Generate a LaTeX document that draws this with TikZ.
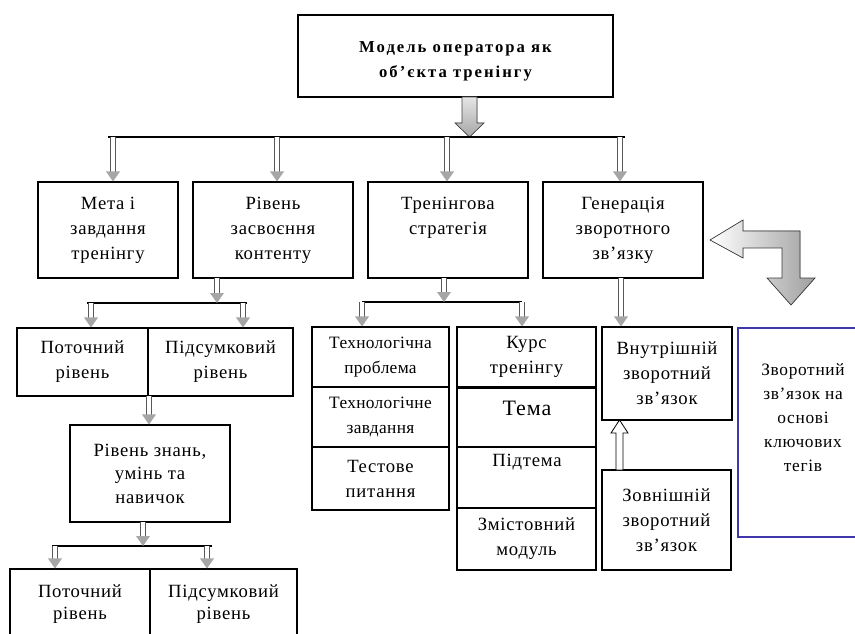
\documentclass[tikz,border=0pt]{standalone}
\usepackage{fontspec}
\setmainfont{Liberation Serif}
\usetikzlibrary{calc}
\newcommand\diagfont{\fontsize{14}{18.75}\selectfont\addfontfeature{LetterSpace=4}}
\newcommand\techfont{\fontsize{13}{18.75}\selectfont\addfontfeature{LetterSpace=2}}
\newcommand\headfont{\fontsize{12.5}{18.75}\selectfont\bfseries\addfontfeature{LetterSpace=12}}
% rectangle node given by its corners (x1,y1) (x2,y2) in pixel units
\newcommand\rbox[7][]{%
  \pgfmathsetmacro\bw{(#5-#3)*0.75}%
  \pgfmathsetmacro\bh{(#6-#4)*0.75}%
  \node[box,#1,minimum width=\bw pt,minimum height=\bh pt] (#2) at ({(#3+#5)/2},{(#4+#6)/2}) {#7};}
% grey double-line arrow ending at #2
\newcommand\dar[2]{%
  \draw[dshaft] (#1) -- ($(#2)+(0,-9)$);
  \fill[dhead] ($(#2)+(-7,-10)$) -- ($(#2)+(7,-10)$) -- (#2) -- cycle;}
\definecolor{boxblue}{RGB}{64,56,170}
\begin{document}
\begin{tikzpicture}[x=0.75pt,y=-0.75pt,
  box/.style={draw=black,line width=0.8pt,fill=white,inner sep=0pt,align=center,font=\diagfont},
  txt/.style={align=center,inner sep=0pt,font=\diagfont},
  bus/.style={line width=1.1pt,black},
  dshaft/.style={draw=gray!70!black,line width=0.55pt,double=white,double distance=3.4pt},
  dhead/.style={fill=gray!70},
  bigarrow/.style={draw=gray!55!black,line width=0.5pt,shade,top color=gray!20,bottom color=gray!70},
  bentarrow/.style={draw=gray!45!black,line width=0.5pt,shade,left color=white,right color=gray!75},
  hollow/.style={draw=black,line width=0.6pt,fill=white},
  bluebox/.style={draw=boxblue,line width=1.6pt,fill=white}
]
\useasboundingbox (0,0) rectangle (855,634);
\clip (0,0) rectangle (855,634);
\fill[white] (0,0) rectangle (855,634);

% top box
\rbox[line width=2pt]{top}{298}{15}{613}{97}{}
\node[txt,font=\headfont] (topt) at (455.5,61.5) {Модель оператора як\\об’єкта тренінгу};

% main arrow down to the bus
\coordinate (mtop) at (462,97);
\filldraw[bigarrow] (mtop) -- (477,97) -- (477,123) -- (484,123) -- (469.5,137) -- (455,123) -- (462,123) -- cycle;

% second row
\rbox{b1}{38}{182}{178}{278}{Мета і\\завдання\\тренінгу}
\rbox{b2}{193}{182}{353}{278}{Рівень\\засвоєння\\контенту}
\rbox{b3}{368}{182}{528}{278}{}
\node[txt] (b3t) at (448,217.5) {Тренінгова\\стратегія};
\rbox{b4}{543}{182}{703}{278}{Генерація\\зворотного\\зв’язку}

% top bus
\coordinate (busL) at (108,137);
\coordinate (busR) at (625,137);
\draw[bus] (busL) -- (busR);
\coordinate (d1) at (113,137);
\coordinate (d2) at (277,137);
\coordinate (d3) at (447,137);
\coordinate (d4) at (620,137);
\dar{d1}{d1 |- b1.north}
\dar{d2}{d2 |- b2.north}
\dar{d3}{d3 |- b3.north}
\dar{d4}{d4 |- b4.north}

% bent arrow on the right
\filldraw[bentarrow] (710,240) -- (743,220) -- (743,231) -- (800,231) -- (800,278) -- (815,278)
  -- (791,305) -- (767,278) -- (782,278) -- (782,248) -- (743,248) -- (743,258) -- cycle;

% assimilation levels
\rbox{p1}{17}{328}{148}{396}{Поточний\\рівень}
\rbox{p2}{148}{328}{293}{396}{Підсумковий\\рівень}
\coordinate (e0) at (217,278);
\coordinate (eb) at (217,303);
\draw[bus] (87,303) coordinate (ebL) -- (247,303) coordinate (ebR);
\dar{e0}{eb}
\coordinate (e1) at (91,303);
\coordinate (e2) at (243,303);
\dar{e1}{e1 |- p1.north}
\dar{e2}{e2 |- p2.north}

\rbox[font=\fontsize{14}{17.6}\selectfont\addfontfeature{LetterSpace=4}]{k}{70}{425}{230}{522}{Рівень знань,\\умінь та\\навичок}
\coordinate (f0) at (149,396);
\dar{f0}{f0 |- k.north}

\rbox[font=\fontsize{14}{16.5}\selectfont\addfontfeature{LetterSpace=4}]{q1}{10}{569}{150}{640}{Поточний\\рівень}
\rbox[font=\fontsize{14}{16.5}\selectfont\addfontfeature{LetterSpace=4}]{q2}{150}{569}{297}{640}{Підсумковий\\рівень}
\coordinate (g0) at (143,522);
\coordinate (gb) at (143,546);
\draw[bus] (52,546) coordinate (gbL) -- (212,546) coordinate (gbR);
\dar{g0}{gb}
\coordinate (g1) at (55,546);
\coordinate (g2) at (207,546);
\dar{g1}{g1 |- q1.north}
\dar{g2}{g2 |- q2.north}

% strategy
\rbox[font=\techfont]{s1}{312}{327}{449}{387}{Технологічна\\проблема}
\rbox[font=\techfont]{s2}{312}{387}{449}{447}{Технологічне\\завдання}
\rbox{s3}{312}{447}{449}{510}{Тестове\\питання}
\rbox{c1}{457}{327}{596}{387}{Курс\\тренінгу}
\rbox{c2}{457}{387}{596}{447}{}
\node[txt,font=\fontsize{16.5}{18}\selectfont\addfontfeature{LetterSpace=4}] (c2t) at (527,408) {Тема};
\rbox{c3}{457}{447}{596}{508}{}
\node[txt] (c3t) at (527,462) {Підтема};
\rbox{c4}{457}{508}{596}{570}{Змістовний\\модуль}
\draw[line width=2pt] (c1.south west) -- (c1.south east);
\coordinate (h0) at (444,278);
\coordinate (hb) at (444,302);
\draw[bus] (362,302) coordinate (hbL) -- (522,302) coordinate (hbR);
\dar{h0}{hb}
\coordinate (h1) at (362,302);
\coordinate (h2) at (522,302);
\dar{h1}{h1 |- s1.north}
\dar{h2}{h2 |- c1.north}

% feedback
\rbox{v}{602}{327}{732}{420}{Внутрішній\\зворотний\\зв’язок}
\rbox{z}{602}{470}{731}{570}{Зовнішній\\зворотний\\зв’язок}
\coordinate (i0) at (621,278);
\dar{i0}{i0 |- v.north}
\coordinate (u0) at (619.5,470);
\filldraw[hollow] (u0) -- (616,470) -- (616,433) -- (611,433) -- (619.5,420) -- (628,433) -- (623,433) -- (623,470) -- cycle;

\node[bluebox,minimum width={132*0.75pt},minimum height={209*0.75pt},inner sep=0pt] (kb) at (804,432.5) {};
\node[txt,font=\fontsize{13}{18}\selectfont\addfontfeature{LetterSpace=4}] (kbt) at (803,418) {Зворотний\\зв’язок на\\основі\\ключових\\тегів};
\end{tikzpicture}
\end{document}
